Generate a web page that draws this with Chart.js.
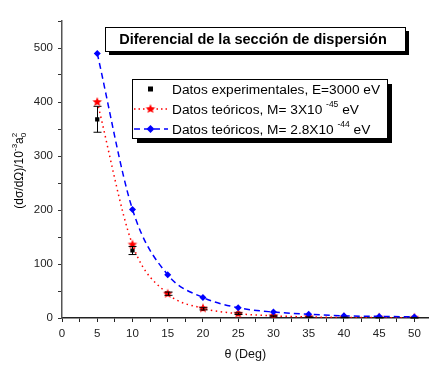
<!DOCTYPE html>
<html>
<head>
<meta charset="utf-8">
<script src="https://cdn.jsdelivr.net/npm/chart.js@4/dist/chart.umd.min.js"></script>
<style>
  html, body { margin: 0; padding: 0; background: #fff; }
  #wrap { width: 434px; height: 368px; }
</style>
</head>
<body>
<div id="wrap"><canvas id="c" width="434" height="368"></canvas></div>
<script>
// ---- data ----
const angles = [5, 10, 15, 20, 25, 30, 35, 40, 45, 50];
const expValues = [368, 125, 45, 17, 8, 3, 1.5, 1, 0.5, 0.3];
const expErrors = [24, 7.5, 3, 2, 1.5, 1, 0.5, 0.5, 0.3, 0.3];
const teoM45 = [400, 136, 45, 18, 8, 4, 2, 1, 0.7, 0.5];
const teoM44 = [490, 201, 80, 38, 19, 11, 7, 4, 3, 2];

const titleText = 'Diferencial de la sección de dispersión';
const xTitle = 'θ (Deg)';
const legendRows = [
    ['Datos experimentales, E=3000 eV', '', ''],
    ['Datos teóricos, M= 3X10 ', '-45', ' eV'],
    ['Datos teóricos, M= 2.8X10 ', '-44', ' eV']
];

const FONT = '"Liberation Sans", Arial, sans-serif';

// filled 5-point star used as red marker
function makeStar(r, color) {
    const c = document.createElement('canvas');
    c.width = c.height = r * 2 + 2;
    const g = c.getContext('2d');
    g.fillStyle = color;
    g.beginPath();
    for (let i = 0; i < 10; i++) {
        const rad = i % 2 === 0 ? r : r * 0.45;
        const a = -Math.PI / 2 + i * Math.PI / 5;
        const px = c.width / 2 + rad * Math.cos(a);
        const py = c.height / 2 + rad * Math.sin(a);
        if (i === 0) g.moveTo(px, py); else g.lineTo(px, py);
    }
    g.closePath();
    g.fill();
    return c;
}
const redStar = makeStar(5, '#ff0000');

function boxWithShadow(ctx, x, y, w, h, off) {
    ctx.fillStyle = '#000';
    ctx.fillRect(x + off, y + off, w, h);
    ctx.fillStyle = '#fff';
    ctx.fillRect(x, y, w, h);
    ctx.strokeStyle = '#000';
    ctx.lineWidth = 1;
    ctx.strokeRect(x + 0.5, y + 0.5, w, h);
}

const extras = {
    id: 'extras',
    afterDatasetsDraw(chart) {
        const ctx = chart.ctx;
        const xs = chart.scales.x, ys = chart.scales.y;
        // error bars on experimental data
        ctx.save();
        ctx.strokeStyle = '#000';
        ctx.lineWidth = 1;
        angles.forEach((a, i) => {
            const px = Math.round(xs.getPixelForValue(a)) + 0.5;
            const top = ys.getPixelForValue(expValues[i] + expErrors[i]);
            const bot = ys.getPixelForValue(expValues[i] - expErrors[i]);
            ctx.beginPath();
            ctx.moveTo(px, top); ctx.lineTo(px, bot);
            ctx.moveTo(px - 4, top); ctx.lineTo(px + 4, top);
            ctx.moveTo(px - 4, bot); ctx.lineTo(px + 4, bot);
            ctx.stroke();
        });
        ctx.restore();
    },
    afterDraw(chart) {
        const ctx = chart.ctx;
        ctx.save();
        // title box
        boxWithShadow(ctx, 105, 27, 300, 24, 4);
        ctx.fillStyle = '#000';
        ctx.font = 'bold 14.5px ' + FONT;
        ctx.textAlign = 'center';
        ctx.textBaseline = 'middle';
        ctx.fillText(titleText, 253, 40);

        // legend box
        boxWithShadow(ctx, 132, 79, 255, 59, 5);
        const rowY = [89, 109, 129];
        ctx.textAlign = 'left';
        ctx.textBaseline = 'alphabetic';
        legendRows.forEach((row, i) => {
            const y = rowY[i];
            if (i === 0) {
                ctx.fillStyle = '#000';
                ctx.fillRect(148, y - 2.5, 5, 5);
            } else if (i === 1) {
                ctx.strokeStyle = '#ff0000';
                ctx.lineWidth = 1.5;
                ctx.setLineDash([1.5, 3]);
                ctx.beginPath(); ctx.moveTo(134, y); ctx.lineTo(168, y); ctx.stroke();
                ctx.setLineDash([]);
                ctx.drawImage(redStar, 150.5 - redStar.width / 2, y - redStar.height / 2);
            } else {
                ctx.strokeStyle = '#0000ff';
                ctx.lineWidth = 1.5;
                ctx.setLineDash([6, 4]);
                ctx.beginPath(); ctx.moveTo(134, y); ctx.lineTo(168, y); ctx.stroke();
                ctx.setLineDash([]);
                ctx.fillStyle = '#0000ff';
                ctx.beginPath();
                ctx.moveTo(150.5, y - 4); ctx.lineTo(154.5, y); ctx.lineTo(150.5, y + 4); ctx.lineTo(146.5, y);
                ctx.closePath(); ctx.fill();
            }
            ctx.fillStyle = '#000';
            ctx.font = '13.7px ' + FONT;
            let x = 172;
            ctx.fillText(row[0], x, y + 5);
            x += ctx.measureText(row[0]).width;
            if (row[1]) {
                ctx.font = '8.5px ' + FONT;
                ctx.fillText(row[1], x, y - 2);
                x += ctx.measureText(row[1]).width;
                ctx.font = '13.7px ' + FONT;
                ctx.fillText(row[2], x, y + 5);
            }
        });

        // y axis title, rotated, with stacked a0^2
        ctx.translate(23, 170);
        ctx.rotate(-Math.PI / 2);
        ctx.fillStyle = '#000';
        const main = '(dσ/dΩ)/10';
        ctx.font = '12px ' + FONT;
        const wMain = ctx.measureText(main).width;
        ctx.font = '8px ' + FONT;
        const wExp = ctx.measureText('-3').width;
        ctx.font = '12px ' + FONT;
        const wA = ctx.measureText('a').width;
        const total = wMain + wExp + wA + 6;
        let tx = -total / 2;
        ctx.textAlign = 'left';
        ctx.fillText(main, tx, 0);
        tx += wMain;
        ctx.font = '8px ' + FONT;
        ctx.fillText('-3', tx, -6);
        tx += wExp;
        ctx.font = '12px ' + FONT;
        ctx.fillText('a', tx, 0);
        tx += wA;
        ctx.font = '8px ' + FONT;
        ctx.fillText('2', tx, -6);
        ctx.fillText('0', tx, 3);
        ctx.restore();
    }
};

new Chart(document.getElementById('c').getContext('2d'), {
    type: 'line',
    data: {
        datasets: [
            {
                label: 'Datos teóricos, M= 2.8X10-44 eV',
                data: angles.map((a, i) => ({ x: a, y: teoM44[i] })),
                borderColor: '#0000ff',
                backgroundColor: '#0000ff',
                borderWidth: 1.5,
                borderDash: [6, 4],
                pointStyle: 'rectRot',
                pointRadius: 3.5,
                pointBorderWidth: 0,
                cubicInterpolationMode: 'monotone'
            },
            {
                label: 'Datos teóricos, M= 3X10-45 eV',
                data: angles.map((a, i) => ({ x: a, y: teoM45[i] })),
                borderColor: '#ff0000',
                backgroundColor: '#ff0000',
                borderWidth: 1.5,
                borderDash: [1.5, 3.5],
                pointStyle: redStar,
                cubicInterpolationMode: 'monotone'
            },
            {
                label: 'Datos experimentales, E=3000 eV',
                data: angles.map((a, i) => ({ x: a, y: expValues[i] })),
                showLine: false,
                borderColor: '#000',
                backgroundColor: '#000',
                pointStyle: 'rect',
                pointRadius: 3,
                pointBorderWidth: 0
            }
        ]
    },
    options: {
        responsive: false,
        animation: false,
        layout: { padding: { top: 21, right: 4, left: 0, bottom: 0 } },
        plugins: {
            legend: { display: false },
            tooltip: { enabled: false }
        },
        scales: {
            x: {
                type: 'linear',
                min: 0,
                max: 52,
                afterFit: (s) => { s.height = 50; },
                border: { display: true, color: '#222', width: 1.5 },
                grid: { drawOnChartArea: false, drawTicks: true, tickLength: 4, color: '#222' },
                ticks: {
                    stepSize: 2.5,
                    includeBounds: false,
                    autoSkip: false,
                    maxRotation: 0,
                    padding: 5,
                    color: '#222',
                    font: { family: FONT, size: 11.5 },
                    callback: (v) => (v % 5 === 0 ? v : '')
                },
                title: {
                    display: true,
                    text: xTitle,
                    color: '#111',
                    font: { family: FONT, size: 12.5 },
                    padding: { top: 4, bottom: 6 }
                }
            },
            y: {
                min: 0,
                max: 550,
                afterFit: (s) => { s.width = 62; },
                border: { display: true, color: '#555', width: 1.5 },
                grid: { drawOnChartArea: false, drawTicks: true, tickLength: 4, color: '#333' },
                ticks: {
                    stepSize: 50,
                    autoSkip: false,
                    padding: 5,
                    color: '#222',
                    font: { family: FONT, size: 11.5 },
                    callback: (v) => (v % 100 === 0 ? v : '')
                }
            }
        }
    },
    plugins: [extras]
});
</script>
</body>
</html>
